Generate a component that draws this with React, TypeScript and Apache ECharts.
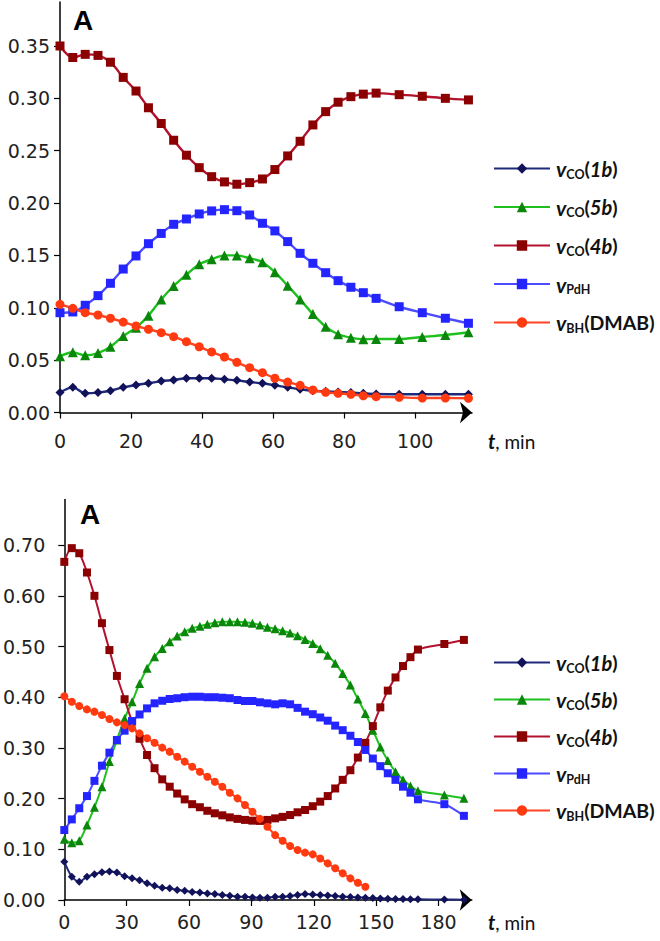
import React, { useEffect, useRef } from "react";
import * as echarts from "echarts";

// ---------- Panel 1 (top) ----------
const topTimes = [0, 3.6, 7.1, 10.7, 14.2, 17.8, 21.4, 24.9, 28.5, 32, 35.6, 39.2, 42.7, 46.3, 49.8, 53.4, 57, 60.5, 64.1, 67.6, 71.2, 74.8, 78.3, 81.9, 85.4, 89, 95.5, 102, 108.5, 115];
const topCO1b = [0.019, 0.024, 0.0183, 0.019, 0.0208, 0.024, 0.0263, 0.0279, 0.03, 0.031, 0.0327, 0.0327, 0.0327, 0.0317, 0.0307, 0.0291, 0.0279, 0.026, 0.024, 0.0222, 0.0208, 0.0202, 0.0196, 0.019, 0.0183, 0.0177, 0.0174, 0.0174, 0.0174, 0.0174];
const topCO5b = [0.0537, 0.0575, 0.0546, 0.0568, 0.0628, 0.073, 0.081, 0.0925, 0.108, 0.1208, 0.1316, 0.1415, 0.1463, 0.15, 0.15, 0.1473, 0.1435, 0.134, 0.1211, 0.108, 0.094, 0.082, 0.0747, 0.0715, 0.07, 0.0702, 0.0702, 0.0721, 0.074, 0.0766];
const topCO4b = [0.35, 0.339, 0.342, 0.341, 0.3345, 0.32, 0.307, 0.291, 0.276, 0.26, 0.2457, 0.2338, 0.2252, 0.2202, 0.218, 0.2195, 0.223, 0.232, 0.245, 0.259, 0.2746, 0.2873, 0.2963, 0.3016, 0.304, 0.305, 0.3035, 0.302, 0.3, 0.2985];
const topPdH = [0.0953, 0.096, 0.1024, 0.1116, 0.1234, 0.137, 0.1495, 0.1612, 0.171, 0.1797, 0.1848, 0.1896, 0.1925, 0.1937, 0.1927, 0.1886, 0.1807, 0.1734, 0.1632, 0.152, 0.1425, 0.1335, 0.1259, 0.1196, 0.1144, 0.109, 0.101, 0.0953, 0.09, 0.0852];
const topBH = [0.1033, 0.0995, 0.0953, 0.0931, 0.09, 0.0864, 0.0826, 0.0795, 0.0762, 0.0724, 0.0676, 0.0628, 0.0578, 0.053, 0.0479, 0.0428, 0.038, 0.0327, 0.0291, 0.026, 0.0215, 0.0193, 0.0183, 0.0174, 0.016, 0.0151, 0.0145, 0.0138, 0.0138, 0.0136];
const topXTicks = [0, 20, 40, 60, 80, 100];
const topYTicks = [0, 0.05, 0.1, 0.15, 0.2, 0.25, 0.3, 0.35];

// ---------- Panel 2 (bottom) ----------
const bottomTimes = [0, 3.6, 7.2, 10.9, 14.5, 18.1, 21.7, 25.3, 29, 32.6, 36.2, 39.8, 43.4, 47.1, 50.7, 54.3, 57.9, 61.5, 65.2, 68.8, 72.4, 76, 79.6, 83.3, 86.9, 90.5, 94.1, 97.7, 101.4, 105, 108.6, 112.2, 115.8, 119.5, 123.1, 126.7, 130.3, 133.9, 137.6, 141.2, 144.8, 148.4, 152, 155.6, 159.3, 162.9, 166.5, 170.1, 182.8, 192.2];
const bottomCO1b = [0.0756, 0.046, 0.036, 0.046, 0.051, 0.0546, 0.056, 0.054, 0.047, 0.0427, 0.039, 0.033, 0.028, 0.024, 0.023, 0.0197, 0.018, 0.016, 0.015, 0.013, 0.012, 0.01, 0.0085, 0.0066, 0.0066, 0.005, 0.0046, 0.0046, 0.0066, 0.0066, 0.008, 0.01, 0.012, 0.011, 0.01, 0.009, 0.008, 0.0066, 0.006, 0.005, 0.0046, 0.004, 0.003, 0.0026, 0.002, 0.002, 0.0013, 0.0013, 0.001, 0.0007];
const bottomCO5b = [0.1197, 0.113, 0.117, 0.148, 0.183, 0.2235, 0.273, 0.3156, 0.358, 0.391, 0.427, 0.457, 0.48, 0.496, 0.5095, 0.5207, 0.529, 0.536, 0.54, 0.544, 0.547, 0.549, 0.549, 0.549, 0.5477, 0.5457, 0.5424, 0.538, 0.535, 0.531, 0.5266, 0.5214, 0.514, 0.506, 0.4957, 0.4826, 0.4668, 0.447, 0.424, 0.3964, 0.368, 0.335, 0.302, 0.275, 0.253, 0.237, 0.225, 0.2156, 0.207, 0.2005];
const bottomCO4b = [0.667, 0.694, 0.684, 0.646, 0.6, 0.546, 0.493, 0.442, 0.396, 0.352, 0.318, 0.286, 0.26, 0.238, 0.2235, 0.21, 0.1985, 0.189, 0.183, 0.176, 0.171, 0.167, 0.163, 0.16, 0.158, 0.1565, 0.156, 0.158, 0.161, 0.164, 0.1677, 0.173, 0.1775, 0.185, 0.194, 0.205, 0.22, 0.237, 0.256, 0.281, 0.31, 0.343, 0.38, 0.413, 0.439, 0.4615, 0.479, 0.494, 0.505, 0.513];
const bottomPdH = [0.138, 0.159, 0.181, 0.205, 0.235, 0.265, 0.2906, 0.3156, 0.334, 0.353, 0.366, 0.378, 0.388, 0.393, 0.3965, 0.398, 0.4, 0.401, 0.401, 0.4, 0.4, 0.399, 0.398, 0.3945, 0.3925, 0.3925, 0.39, 0.388, 0.386, 0.388, 0.386, 0.379, 0.3715, 0.3665, 0.36, 0.3537, 0.344, 0.335, 0.324, 0.3116, 0.296, 0.279, 0.264, 0.25, 0.237, 0.2235, 0.2117, 0.1986, 0.189, 0.166];
const bottomBH = [0.402, 0.391, 0.3826, 0.376, 0.3715, 0.365, 0.357, 0.3504, 0.345, 0.3386, 0.3287, 0.319, 0.3103, 0.3005, 0.2926, 0.2827, 0.273, 0.263, 0.253, 0.243, 0.2334, 0.2235, 0.2117, 0.2005, 0.1874, 0.174, 0.16, 0.1446, 0.128, 0.117, 0.1065, 0.0986, 0.0934, 0.09, 0.082, 0.0723, 0.0625, 0.0526, 0.0427, 0.034, 0.0263];
const bottomXTicks = [0, 30, 60, 90, 120, 150, 180];
const bottomYTicks = [0, 0.1, 0.2, 0.3, 0.4, 0.5, 0.6, 0.7];

const seriesKeys = ["1b", "5b", "4b", "PdH", "BH"];
const legendLabels: Record<string, string> = {
  "1b": "{v|v}{s|CO}{p|(}{i|1b}{p|)}",
  "5b": "{v|v}{s|CO}{p|(}{i|5b}{p|)}",
  "4b": "{v|v}{s|CO}{p|(}{i|4b}{p|)}",
  PdH: "{v|v}{s|PdH}",
  BH: "{v|v}{s|BH}{p|(DMAB)}",
};

const styles: Record<string, any> = {
  "1b": { symbol: "diamond", line: "#1f2a7a", marker: "#12125a" },
  "5b": { symbol: "triangle", line: "#1ec01e", marker: "#0a870a" },
  "4b": { symbol: "rect", line: "#b3122e", marker: "#8b0000" },
  PdH: { symbol: "rect", line: "#4b4bff", marker: "#2424ff" },
  BH: { symbol: "circle", line: "#ff4422", marker: "#ff3a10" },
};

const AXIS_FONT = '"DejaVu Sans", Verdana, sans-serif';
const LEG_FONT = 'Lato, "Open Sans", sans-serif';

export default function App() {
  const ref = useRef<HTMLDivElement>(null);

  useEffect(() => {
    if (!ref.current) return;
    const chart = echarts.init(ref.current, null, { renderer: "svg" });

    const topData: Record<string, number[]> = { "1b": topCO1b, "5b": topCO5b, "4b": topCO4b, PdH: topPdH, BH: topBH };
    const bottomData: Record<string, number[]> = { "1b": bottomCO1b, "5b": bottomCO5b, "4b": bottomCO4b, PdH: bottomPdH, BH: bottomBH };

    const mkSeries = (panel: string, idx: number, times: number[], data: Record<string, number[]>, sizes: Record<string, number>, lw: number) =>
      seriesKeys.map((k) => ({
        name: panel + "-" + k,
        type: "line",
        xAxisIndex: idx,
        yAxisIndex: idx,
        data: data[k].map((v, i) => [times[i], v]),
        smooth: 0.3,
        symbol: styles[k].symbol,
        symbolSize: sizes[k],
        showSymbol: true,
        lineStyle: { color: styles[k].line, width: lw },
        itemStyle: { color: styles[k].marker },
        emphasis: { disabled: true },
      }));

    const rich = {
      v: { fontFamily: LEG_FONT, fontSize: 21, fontWeight: "bold", fontStyle: "italic", color: "#111", lineHeight: 24 },
      s: { fontFamily: LEG_FONT, fontSize: 12.5, fontWeight: "bold", color: "#111", lineHeight: 13, verticalAlign: "bottom" },
      p: { fontFamily: LEG_FONT, fontSize: 19.5, fontWeight: "bold", color: "#111", lineHeight: 24 },
      i: { fontFamily: LEG_FONT, fontSize: 20, fontWeight: "bold", fontStyle: "italic", color: "#111", lineHeight: 24 },
    };

    const mkLegend = (panel: string, top: number, gap: number) => ({
      data: seriesKeys.map((k) => panel + "-" + k),
      orient: "vertical",
      left: 493,
      top,
      padding: 0,
      itemWidth: 56,
      itemHeight: 13,
      itemGap: gap,
      selectedMode: false,
      formatter: (name: string) => legendLabels[name.split("-")[1]],
      textStyle: { rich, padding: [0, 0, 0, 1] },
    });

    const axisLabel = { fontFamily: AXIS_FONT, fontSize: 19, color: "#222" };
    const mkX = (idx: number, max: number, ticks: number[], margin: number) => ({
      gridIndex: idx,
      type: "value",
      min: 0,
      max,
      axisLine: { show: true, lineStyle: { color: "#000", width: 1.5 }, symbol: ["none", "arrow"], symbolSize: [16, 12] },
      axisTick: { show: true, length: 6, lineStyle: { color: "#000", width: 1.2 }, customValues: ticks },
      axisLabel: { ...axisLabel, margin, customValues: ticks },
      splitLine: { show: false },
    });
    const mkY = (idx: number, max: number, ticks: number[], margin: number) => ({
      gridIndex: idx,
      type: "value",
      min: 0,
      max,
      axisLine: { show: true, lineStyle: { color: "#000", width: 1.5 } },
      axisTick: { show: true, length: 6, lineStyle: { color: "#000", width: 1.2 }, customValues: ticks },
      axisLabel: { ...axisLabel, margin, customValues: ticks, formatter: (v: number) => v.toFixed(2) },
      splitLine: { show: false },
    });

    const tminText = (x: number, y: number) => ({
      type: "text",
      x,
      y,
      style: {
        text: "{t|t}{n|, min}",
        verticalAlign: "middle",
        rich: {
          t: { fontFamily: LEG_FONT, fontSize: 20, fontWeight: "bold", fontStyle: "italic", fill: "#111" },
          n: { fontFamily: LEG_FONT, fontSize: 19, fill: "#111" },
        },
      },
    });
    const panelLetter = (x: number, y: number) => ({
      type: "text",
      x,
      y,
      style: { text: "A", fontFamily: '"Liberation Sans", Arial, sans-serif', fontSize: 28, fontWeight: "bold", fill: "#000" },
    });

    const option: any = {
      animation: false,
      backgroundColor: "#fff",
      grid: [
        { left: 60, top: 2, width: 412, height: 410.5 },
        { left: 63.5, top: 499.5, width: 408.3, height: 400.5 },
      ],
      xAxis: [mkX(0, 116, topXTicks, 19), mkX(1, 196, bottomXTicks, 12)],
      yAxis: [mkY(0, 0.392, topYTicks, 10), mkY(1, 0.79, bottomYTicks, 19)],
      legend: [mkLegend("top", 158, 16), mkLegend("bottom", 652, 14.5)],
      series: [
        ...mkSeries("top", 0, topTimes, topData, { "1b": 9, "5b": 10, "4b": 9, PdH: 9, BH: 9 }, 2.4),
        ...mkSeries("bottom", 1, bottomTimes, bottomData, { "1b": 8, "5b": 9, "4b": 8, PdH: 8, BH: 8 }, 2),
      ],
      graphic: [panelLetter(73, 6), panelLetter(80, 500), tminText(488, 441), tminText(488, 922)],
    };

    chart.setOption(option);
    return () => chart.dispose();
  }, []);

  return <div ref={ref} style={{ position: "absolute", left: 0, top: 0, width: 660, height: 941, background: "#fff" }} />;
}
